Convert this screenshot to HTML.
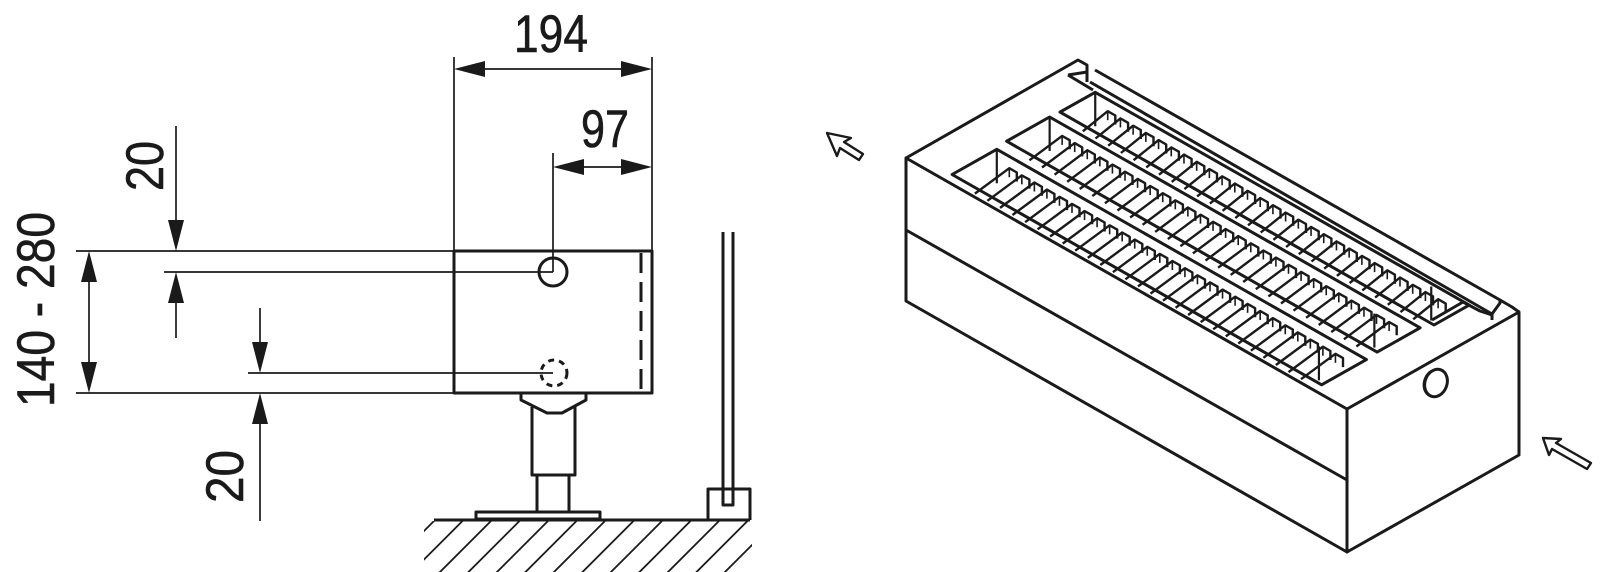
<!DOCTYPE html>
<html><head><meta charset="utf-8"><style>html,body{margin:0;padding:0;background:#fff}svg{display:block}</style></head>
<body>
<svg id="s" width="1600" height="572" viewBox="0 0 1600 572" xmlns="http://www.w3.org/2000/svg" font-family="'Liberation Sans Narrow','Liberation Sans',sans-serif" fill="none" stroke="#1a1a1a" stroke-linejoin="round">
<defs><clipPath id="hc"><rect x="424" y="521" width="328" height="60"/></clipPath></defs>
<g stroke-width="1.7">
<line x1="454" y1="57" x2="454" y2="251"/>
<line x1="652" y1="57" x2="652" y2="251"/>
<line x1="553" y1="153" x2="553" y2="272"/>
<line x1="480" y1="69" x2="626" y2="69"/>
<line x1="580" y1="167" x2="626" y2="167"/>
<line x1="76" y1="251" x2="454" y2="251"/>
<line x1="164" y1="272" x2="553" y2="272"/>
<line x1="248" y1="373" x2="553" y2="373"/>
<line x1="76" y1="393" x2="454" y2="393"/>
<line x1="89" y1="275" x2="89" y2="369"/>
<line x1="176" y1="126" x2="176" y2="228"/>
<line x1="176" y1="296" x2="176" y2="338"/>
<line x1="260" y1="308" x2="260" y2="350"/>
<line x1="260" y1="416" x2="260" y2="521"/>
</g>
<g fill="#1a1a1a" stroke="none">
<polygon points="454,69 485,61 485,77"/><polygon points="652,69 621,61 621,77"/>
<polygon points="553,167 584,159 584,175"/><polygon points="652,167 621,159 621,175"/>
<polygon points="89,251 81,282 97,282"/><polygon points="89,393 81,362 97,362"/>
<polygon points="176,251 168,220 184,220"/><polygon points="176,272 168,303 184,303"/>
<polygon points="260,373 252,342 268,342"/><polygon points="260,393 252,424 268,424"/>
</g>
<g fill="#1a1a1a" stroke="#1a1a1a" stroke-width="0.6" font-size="53">
<text x="514" y="52" textLength="74" lengthAdjust="spacingAndGlyphs">194</text>
<text x="581" y="147" textLength="48" lengthAdjust="spacingAndGlyphs">97</text>
<text transform="translate(163,191) rotate(-90)" textLength="50" lengthAdjust="spacingAndGlyphs">20</text>
<text transform="translate(54,407) rotate(-90)" textLength="195" lengthAdjust="spacingAndGlyphs">140 - 280</text>
<text transform="translate(243,503) rotate(-90)" textLength="53" lengthAdjust="spacingAndGlyphs">20</text>
</g>
<g stroke-width="3">
<rect x="454" y="251" width="198" height="142"/>
<line x1="641" y1="253" x2="641" y2="391" stroke-dasharray="20,9"/>
<circle cx="553" cy="272" r="14"/>
<circle cx="554" cy="373" r="13" stroke-dasharray="6,5"/>
<polyline points="521,394 521,400 547,413 562,413 586,400 586,394"/>
<polyline points="532,407 532,475 575,475 575,407"/>
<polyline points="537,475 537,512 569,512 569,475"/>
<rect x="476" y="512" width="124" height="7"/>
<line x1="434" y1="520" x2="750" y2="520"/>
<polyline points="723,232 723,505 733,505 733,232"/>
<polyline points="708,520 708,489 750,489 750,520"/>
</g>
<g stroke-width="1.8" id="hatch" clip-path="url(#hc)"></g>
<g stroke-width="3" id="iso">
<polygon points="906,158 1347,409 1347,552 906,301"/>
<polygon points="1347,409 1519,312 1519,455 1347,552"/>
<line x1="906" y1="230" x2="1347" y2="480"/>
<polyline points="906,158 1078,60 1087,65 1087,82"/>
<polyline points="1068,75 1087,72"/>
<polyline points="1068,75 1093,90"/>
<line x1="1095" y1="70" x2="1500" y2="300"/>
<line x1="1090" y1="82" x2="1492" y2="314"/>
<polyline points="1492,314 1500,303 1500,300 1512,307 1519,312"/>
<line x1="1492" y1="314" x2="1492" y2="320"/>
<polyline points="1432,320 1463,302 1480,311 1492,315"/>
<ellipse cx="1436" cy="383" rx="11" ry="14" transform="rotate(20 1436 383)"/>
<path d="M1431,371 A11,14 20 0 0 1430,396" stroke-width="2"/>
<polygon points="827,133 837,156 840,148 859,160 863,154 844,142 851,138" stroke-width="2.4"/>
<polygon points="1543,438 1549,455 1552,449 1587,469 1591,463 1556,443 1561,439" stroke-width="2.4"/>
</g>
</svg>
<script>
(function(){
var NS="http://www.w3.org/2000/svg";
function el(p,t,a){var e=document.createElementNS(NS,t);for(var k in a)e.setAttribute(k,a[k]);p.appendChild(e);return e;}
var h=document.getElementById('hatch');
for(var x=434;x<=810;x+=28.5){el(h,'line',{x1:x,y1:521,x2:x-54,y2:575});}
var g=document.getElementById('iso');
var A=[906,158],u=[441,251],v=[172,-97];
function P(s,t,dy){return [A[0]+s*u[0]+t*v[0],A[1]+s*u[1]+t*v[1]+(dy||0)];}
function f(p){return p[0].toFixed(1)+','+p[1].toFixed(1);}
var ch=[[0.085,0.923,0.05,0.31],[0.08,0.92,0.38,0.63],[0.082,0.93,0.685,0.89]];
ch.forEach(function(c,i){
 var s0=c[0],s1=c[1],t0=c[2],t1=c[3];
 el(g,'polygon',{points:[P(s0,t0),P(s0,t1),P(s1,t1),P(s1,t0)].map(f).join(' ')});
 var a=P(s0,t1);el(g,'line',{x1:a[0],y1:a[1],x2:a[0],y2:a[1]+34,'stroke-width':2.2});
 var b=P(s1-0.012,t0+0.015);el(g,'line',{x1:b[0],y1:b[1],x2:b[0],y2:b[1]-34,'stroke-width':2.2});
 var n=27,ss=s0+0.04,se=s1-0.03,step=(se-ss)/n;
 for(var k=0;k<n;k++){
  var s=ss+k*step;
  var p0=P(s,t0+0.03,12),p1=P(s,t1-0.03,6),p2=P(s+step*0.6,t1-0.03,6);
  el(g,'polyline',{points:[p0,p1,p2,[p2[0],p2[1]+9]].map(f).join(' '),'stroke-width':2.4});
  el(g,'line',{x1:p1[0],y1:p1[1],x2:p1[0],y2:p1[1]+9,'stroke-width':1.6});
 }
});
})();
</script>
</body></html>
